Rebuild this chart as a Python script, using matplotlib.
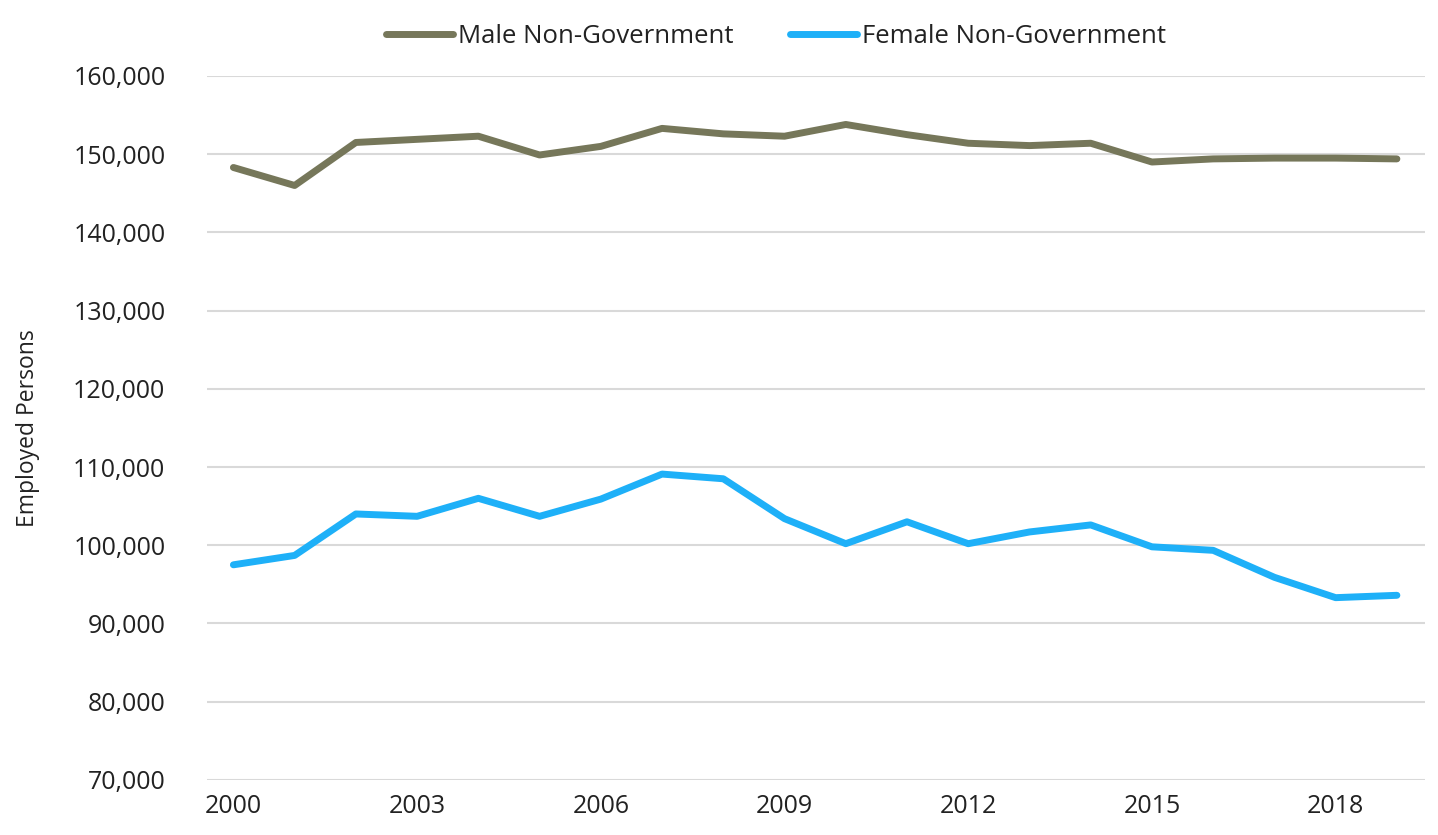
import matplotlib
matplotlib.use("Agg")
import matplotlib.pyplot as plt
from matplotlib.ticker import FuncFormatter

years = list(range(2000, 2020))
male = [148300, 146000, 151500, 151900, 152300, 149900, 151000, 153300, 152600, 152300,
        153800, 152500, 151400, 151100, 151400, 149000, 149400, 149500, 149500, 149400]
female = [97500, 98700, 104000, 103700, 106000, 103700, 105900, 109100, 108500, 103400,
          100200, 103000, 100200, 101700, 102600, 99800, 99350, 95900, 93300, 93600]
xticks = [2000, 2003, 2006, 2009, 2012, 2015, 2018]
yticks = list(range(70000, 160001, 10000))

plt.rcParams['font.family'] = ['Open Sans', 'DejaVu Sans']

fig = plt.figure(figsize=(14.38, 8.35), dpi=100)
ax = fig.add_axes([0.144, 0.066, 0.847, 0.843])

ax.plot(years, male, color="#76775a", lw=5, solid_capstyle="round",
        solid_joinstyle="round", label="Male Non-Government")
ax.plot(years, female, color="#1eb0f8", lw=5, solid_capstyle="round",
        solid_joinstyle="round", label="Female Non-Government")

ax.set_xlim(1999.57, 2019.46)
ax.set_ylim(70000, 160000)
ax.set_xticks(xticks)
ax.set_yticks(yticks)
ax.yaxis.set_major_formatter(FuncFormatter(lambda v, p: f"{int(v):,}"))
ax.grid(axis="y", color="#d9d9d9", lw=1.5)
ax.set_axisbelow(True)
for s in ax.spines.values():
    s.set_visible(False)
ax.tick_params(length=0, labelsize=18, colors="#222222")
ax.tick_params(axis="y", pad=30)
ax.tick_params(axis="x", pad=10)
ax.set_ylabel("Employed Persons", fontsize=16.5, color="#222222")
ax.yaxis.set_label_coords(-0.137, 0.5)

ax.legend(loc="lower center", bbox_to_anchor=(0.467, 1.005), ncol=2, frameon=False,
          fontsize=18.5, handlelength=2.6, handletextpad=0.2, columnspacing=2.2,
          labelcolor="#222222")

fig.savefig("out.png", dpi=100)
